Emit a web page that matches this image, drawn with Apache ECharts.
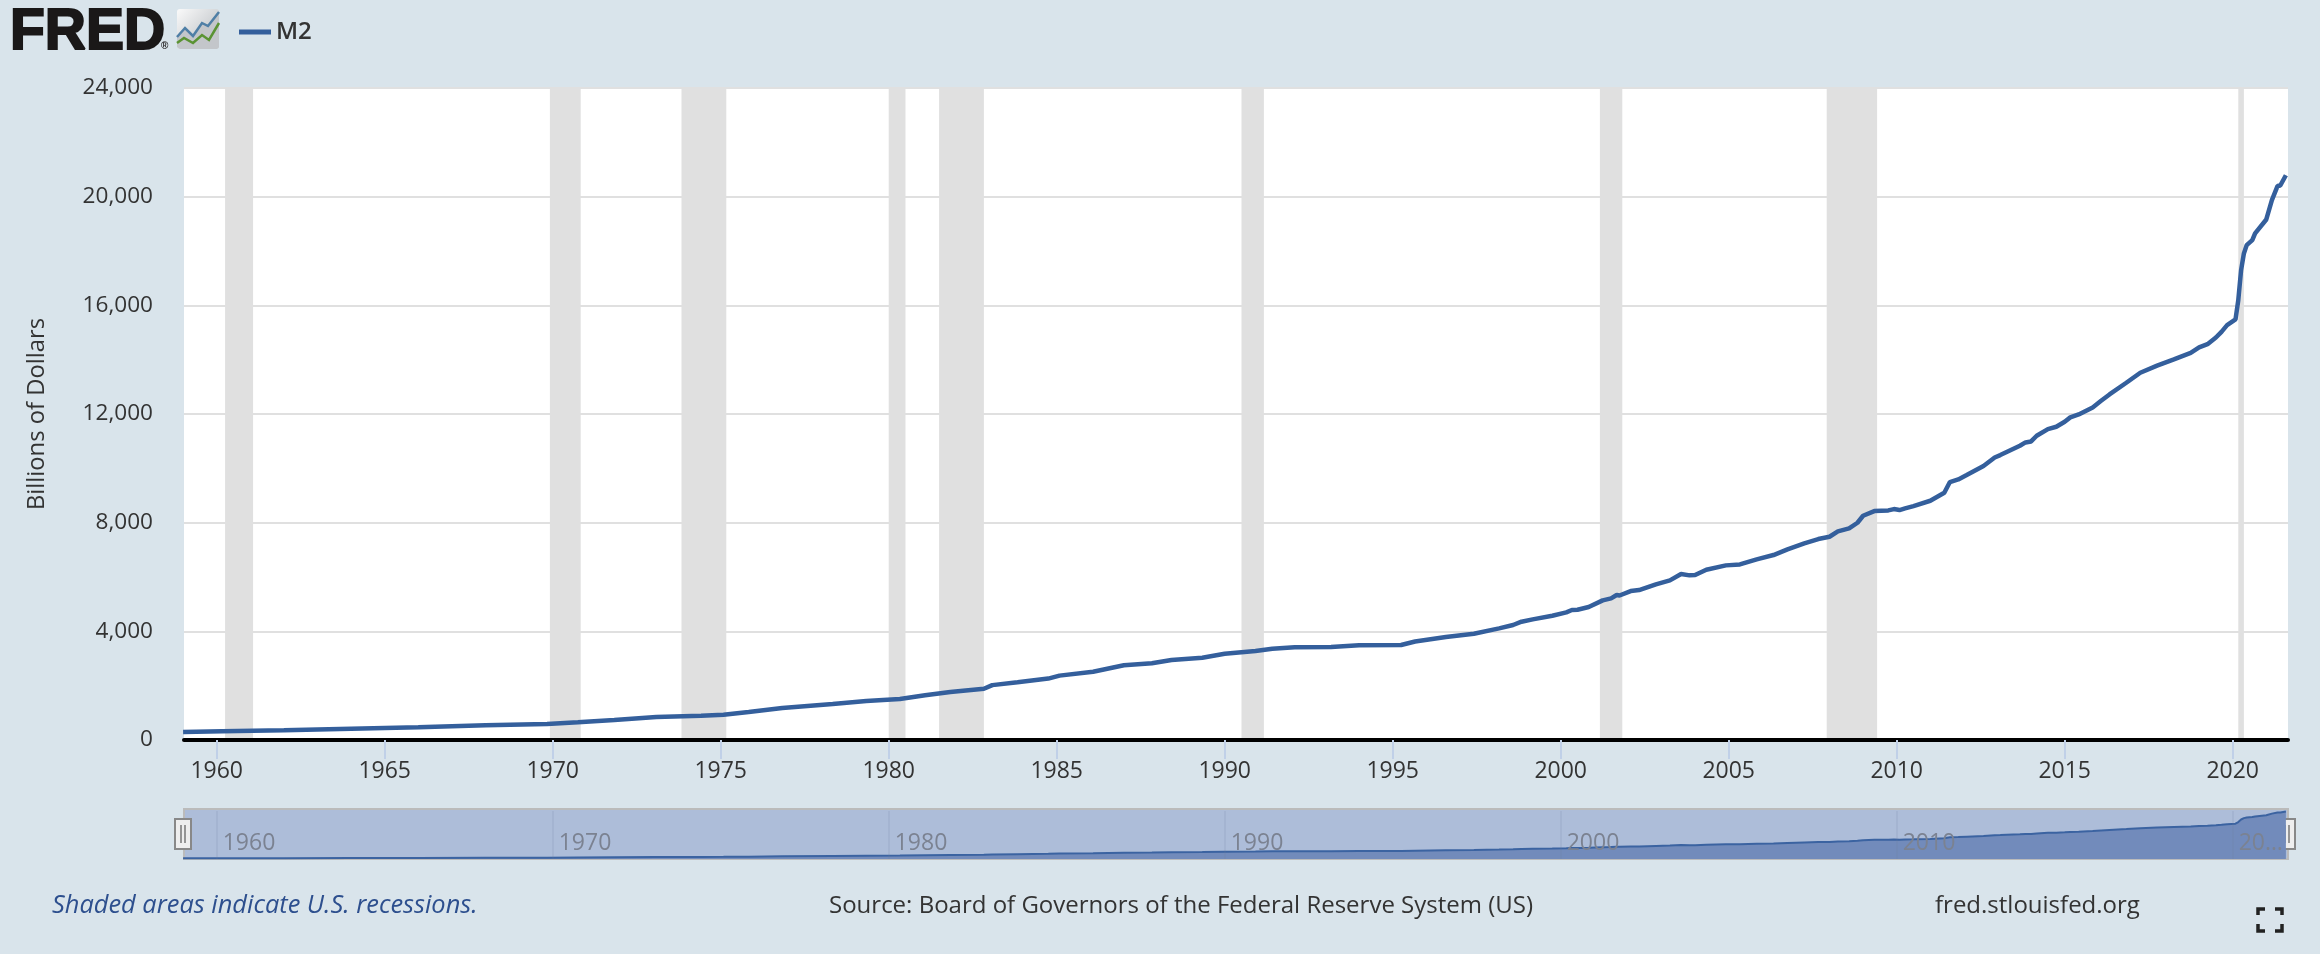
<!DOCTYPE html>
<html>
<head>
<meta charset="utf-8">
<title>M2 - FRED</title>
<script src="https://cdn.jsdelivr.net/npm/echarts@6/dist/echarts.min.js"></script>
<style>html,body{margin:0;padding:0;background:#d9e4eb}#c{width:2320px;height:954px}</style>
</head>
<body>
<div id="c"></div>
<script>
const seriesName = 'M2';
const dates = ['1959-01','1960-03','1962-01','1964-01','1966-01','1968-01','1969-11','1970-10','1971-11','1973-02','1974-06','1975-02','1975-11','1976-11','1978-05','1979-05','1980-05','1981-02','1981-11','1982-11','1983-02','1983-11','1984-10','1985-02','1986-02','1987-01','1987-11','1988-06','1989-05','1990-01','1990-12','1991-06','1992-02','1993-03','1994-01','1995-04','1995-09','1996-08','1997-06','1998-03','1998-08','1998-11','1999-03','1999-10','2000-03','2000-05','2000-07','2000-11','2001-04','2001-07','2001-09','2001-10','2002-02','2002-05','2002-11','2003-04','2003-08','2003-11','2004-01','2004-05','2004-12','2005-05','2005-11','2006-05','2006-10','2007-04','2007-09','2008-01','2008-04','2008-08','2008-11','2009-01','2009-05','2009-10','2009-12','2010-02','2010-04','2010-07','2011-01','2011-06','2011-08','2011-11','2012-02','2012-08','2012-12','2013-02','2013-09','2013-11','2014-01','2014-03','2014-07','2014-10','2015-01','2015-03','2015-06','2015-11','2016-02','2016-05','2016-11','2017-04','2017-10','2018-04','2018-10','2019-01','2019-04','2019-07','2019-09','2019-11','2020-02','2020-03','2020-04','2020-05','2020-06','2020-08','2020-09','2021-01','2021-03','2021-05','2021-06','2021-08'];
const m2Values = [294,320,357,416,467,541,589,651,736,846,894,931,1030,1178,1325,1435,1509,1645,1766,1885,2020,2125,2260,2370,2510,2750,2822,2944,3030,3177,3275,3360,3411,3422,3485,3496,3625,3790,3910,4110,4232,4355,4440,4574,4698,4784,4796,4894,5140,5213,5336,5320,5483,5520,5729,5876,6109,6060,6072,6268,6428,6464,6649,6808,7017,7237,7397,7482,7680,7790,7997,8254,8427,8452,8500,8464,8526,8611,8806,9101,9494,9593,9752,10083,10400,10488,10832,10954,10990,11200,11445,11530,11715,11875,11985,12243,12486,12720,13150,13520,13780,14010,14250,14450,14570,14815,15025,15272,15480,16192,17296,17910,18216,18400,18650,19160,19870,20390,20410,20790];
const recessions = [['1960-04','1961-02'],['1969-12','1970-11'],['1973-11','1975-03'],['1980-01','1980-07'],['1981-07','1982-11'],['1990-07','1991-03'],['2001-03','2001-11'],['2007-12','2009-06'],['2020-03','2020-05']];
const xMin = 1959.027, xMax = 2021.646;
const mainYears = [1960,1965,1970,1975,1980,1985,1990,1995,2000,2005,2010,2015,2020];
const navYears = [1960,1970,1980,1990,2000,2010,2020];
const navLabels = {2020:'20…'};
const yMax = 24000, yStep = 4000;
const yTitle = 'Billions of Dollars';
const noteText = 'Shaded areas indicate U.S. recessions.';
const sourceText = 'Source: Board of Governors of the Federal Reserve System (US)';
const siteText = 'fred.stlouisfed.org';

const FONT = '"Open Sans", sans-serif';
const BLUE = '#345f9c';
const yearOf = d => { const p = d.split('-'); return +p[0] + (+p[1] - 1) / 12; };
const pairs = dates.map((d, i) => [yearOf(d), m2Values[i]]);
const handle = (x) => ({
  type: 'group', z: 50, children: [
    {type:'rect', shape:{x:x, y:819, width:16, height:30}, style:{fill:'#eeeeee', stroke:'#888888', lineWidth:2}},
    {type:'line', shape:{x1:x+6, y1:825, x2:x+6, y2:843}, style:{stroke:'#777', lineWidth:1.5}},
    {type:'line', shape:{x1:x+10, y1:825, x2:x+10, y2:843}, style:{stroke:'#777', lineWidth:1.5}}
  ]
});
const corner = (pts) => ({type:'polyline', z:50, shape:{points:pts}, style:{stroke:'#222', lineWidth:3.5, fill:null}});

const option = {
  animation: false,
  backgroundColor: '#d9e4eb',
  textStyle: {fontFamily: FONT, color:'#333'},
  legend: {
    left: 234, top: 15, data:[seriesName], icon:'rect', itemWidth:32, itemHeight:5, itemGap:16,
    textStyle:{fontFamily:FONT, fontSize:24, fontWeight:600, color:'#333'}
  },
  grid: [
    {left:184, right:32, top:88, bottom:214, show:true, backgroundColor:'#fff', borderWidth:0},
    {left:184, right:32, top:809, bottom:95, show:true, backgroundColor:'#adbdd9', borderColor:'#bbbbbb', borderWidth:2}
  ],
  xAxis: [
    {type:'value', gridIndex:0, min:xMin, max:xMax, z:6, scale:true,
     axisLine:{show:true, onZero:false, lineStyle:{color:'#000', width:4}},
     axisTick:{show:true, length:19, customValues:mainYears, lineStyle:{color:'#c0d0e8', width:2}},
     splitLine:{show:false},
     axisLabel:{customValues:mainYears, margin:20, fontFamily:FONT, fontSize:23, color:'#333',
       hideOverlap:false, formatter:v => String(v)}},
    {type:'value', gridIndex:1, min:xMin, max:xMax, z:6, scale:true,
     axisLine:{show:false, onZero:false},
     axisTick:{show:true, inside:true, length:48, customValues:navYears, lineStyle:{color:'rgba(110,125,155,0.13)', width:2}},
     splitLine:{show:false},
     axisLabel:{customValues:navYears, inside:true, margin:4, align:'left', padding:[0,0,0,6],
       fontFamily:FONT, fontSize:23, color:'#7b8291', hideOverlap:false,
       formatter:v => navLabels[v] || String(v)}}
  ],
  yAxis: [
    {type:'value', gridIndex:0, min:0, max:yMax, interval:yStep,
     name:yTitle, nameLocation:'middle', nameGap:135, nameRotate:90,
     nameTextStyle:{fontFamily:FONT, fontSize:23.8, color:'#333'},
     axisLine:{show:false}, axisTick:{show:false},
     splitLine:{lineStyle:{color:'#e0e0e0', width:2}},
     axisLabel:{margin:31, padding:[4,0,0,0], fontFamily:FONT, fontSize:22.6, color:'#333'}},
    {type:'value', gridIndex:1, min:0, max:21900, show:false, splitLine:{show:false}}
  ],
  series: [
    {name:seriesName, type:'line', xAxisIndex:0, yAxisIndex:0, data:pairs, showSymbol:false, symbol:'none',
     z:3, lineStyle:{color:BLUE, width:4.5}, itemStyle:{color:BLUE},
     markArea:{silent:true, z:1, itemStyle:{color:'#e0e0e0', opacity:1},
       data:recessions.map(r => [{xAxis:yearOf(r[0])},{xAxis:yearOf(r[1])}])}},
    {name:'M2 navigator', type:'line', xAxisIndex:1, yAxisIndex:1, data:pairs, showSymbol:false, symbol:'none',
     z:1, lineStyle:{color:'#3b63a1', width:2}, areaStyle:{color:'#728bbb', opacity:1}}
  ],
  graphic: [
    {type:'text', z:50, left:9, top:4, style:{text:'FRED', font:'bold 57px "Liberation Sans"', fill:'#1a1818', stroke:'#1a1818', lineWidth:2}},
    {type:'text', z:50, left:161, top:41, style:{text:'®', font:'bold 10px "Liberation Sans"', fill:'#1a1818'}},
    {type:'rect', z:50, shape:{x:177,y:9,width:42,height:40,r:3}, style:{fill:new echarts.graphic.LinearGradient(0,0,1,1,[{offset:0,color:'#fafafa'},{offset:0.6,color:'#cfd2d5'},{offset:1,color:'#c2c5c8'}])}},
    {type:'polygon', z:51, shape:{points:[[177,37],[185,28],[193,36],[202,23],[208,26],[219,12],[219,47],[216,49],[180,49],[177,47]]}, style:{fill:'#c3c6ca'}},
    {type:'polyline', z:52, shape:{points:[[177,37],[185,28],[193,36],[202,23],[208,26],[219,12]]}, style:{stroke:'#4f7fa6', lineWidth:2.5, fill:null}},
    {type:'polyline', z:52, shape:{points:[[177,43],[184,38],[193,43],[202,35],[209,40],[219,23]]}, style:{stroke:'#5a9333', lineWidth:2.5, fill:null}},
    {type:'text', z:50, left:52, top:893, style:{text:noteText, font:'italic 25.4px "Open Sans"', fill:'#2d4f8e'}},
    {type:'text', z:50, left:829, top:894, style:{text:sourceText, font:'24px "Open Sans"', fill:'#333'}},
    {type:'text', z:50, left:1935, top:894, style:{text:siteText, font:'24px "Open Sans"', fill:'#333'}},
    handle(175), handle(2279),
    corner([[2258,915],[2258,909],[2265,909]]),
    corner([[2275,909],[2282,909],[2282,915]]),
    corner([[2258,924],[2258,931],[2265,931]]),
    corner([[2275,931],[2282,931],[2282,924]])
  ]
};
const chart = echarts.init(document.getElementById('c'), null, {width:2320, height:954, renderer:'canvas'});
chart.setOption(option);
</script>
</body>
</html>
